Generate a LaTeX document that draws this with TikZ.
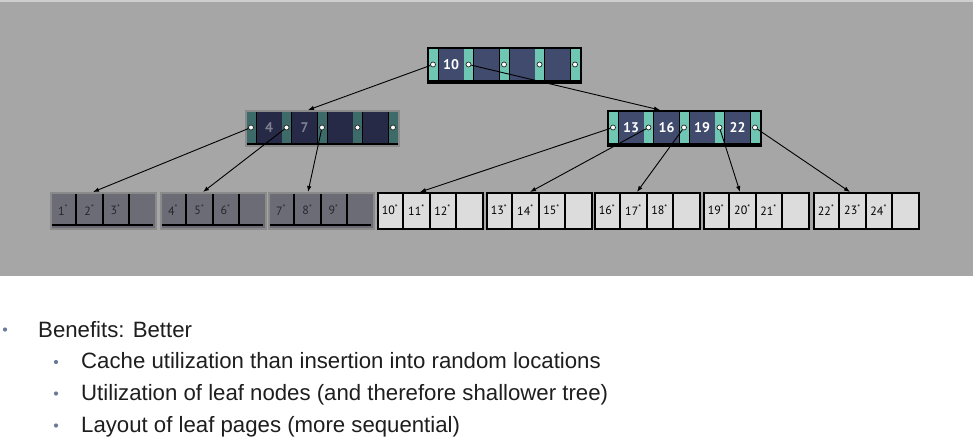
\documentclass[tikz,border=0pt]{standalone}
\usepackage{fontspec}
\setmainfont{Liberation Sans}
\newfontfamily\leaffont{PT Sans}
\newfontfamily\keyfont{PT Sans}
\usetikzlibrary{calc,arrows.meta}
\definecolor{bgA}{HTML}{A6A6A6}
\definecolor{bgTop}{HTML}{CFCFCF}
\definecolor{tealA}{HTML}{6FC7B3}
\definecolor{keyA}{HTML}{404B6D}
\definecolor{tealD}{HTML}{3D6B69}
\definecolor{keyD}{HTML}{272A46}
\definecolor{keytD}{HTML}{7E8092}
\definecolor{rimD}{HTML}{8A8A8A}
\definecolor{leafL}{HTML}{DCDCDC}
\definecolor{leafDfill}{HTML}{6C6C76}
\definecolor{leafDtext}{HTML}{26262C}
\definecolor{txtcol}{HTML}{1E1E1E}
\definecolor{bulcol}{HTML}{6B7A99}
\tikzset{
  ibox/.style={rectangle, anchor=north west, minimum width=153pt, minimum height=35pt, inner sep=0pt, fill=black, line width=1.5pt},
  ptr/.style={circle, fill=white, draw=black!85, line width=0.7pt, minimum size=5pt, inner sep=0pt},
  keyt/.style={font=\keyfont\bfseries\fontsize{14}{14}\selectfont, text=white, inner sep=0pt},
  keytdim/.style={keyt, text=keytD},
  lbox/.style={rectangle, anchor=north west, minimum width=105pt, minimum height=36pt, inner sep=0pt, fill=leafL, draw=black, line width=2pt},
  dbox/.style={rectangle, anchor=north west, minimum width=105pt, minimum height=36pt, inner sep=0pt, fill=leafDfill, draw=rimD, line width=1.5pt},
  leaft/.style={font=\leaffont\fontsize{12}{12}\selectfont, text=black, inner sep=0pt},
  leaftdim/.style={leaft, text=leafDtext},
  arr/.style={draw=black, line width=0.9pt, -{Latex[length=6pt,width=4.5pt]}},
  txt/.style={font=\fontsize{22.2}{26}\selectfont, text=txtcol, inner sep=0pt, anchor=base west},
  bul/.style={circle, fill=bulcol, minimum size=4.2pt, inner sep=0pt}
}
\newcommand\drawinode[6]{%
  \node[ibox, draw=#6] (#1) at (#2,#3) {};
  \foreach \i in {0,...,4} \fill[#4] ($(#1.north west)+(1.5+35.5*\i,2)$) rectangle ++(9,31);
  \foreach \i in {0,...,3} \fill[#5] ($(#1.north west)+(11.5+35.5*\i,2)$) rectangle ++(25,31);
  \foreach \i in {0,...,4} \node[ptr] (#1-p\i) at ($(#1.north west)+(6+35.5*\i,17.5)$) {};
}
\newcommand\drawleaf[5]{%
  \node[lbox] (#1) at (#2,192) {};
  \foreach \i in {1,2,3} \draw[black, line width=2pt] ($(#1.north west)+(26.25*\i,0)$) -- ++(0,36);
  \node[leaft] (#1-a) at ($(#1.north west)+(13.1,18)$) {#3\textsuperscript{*}};
  \node[leaft] (#1-b) at ($(#1.north west)+(39.4,18)$) {#4\textsuperscript{*}};
  \node[leaft] (#1-c) at ($(#1.north west)+(65.6,18)$) {#5\textsuperscript{*}};
}
\newcommand\drawdleaf[5]{%
  \node[dbox] (#1) at (#2,192) {};
  \foreach \i in {1,2,3} \draw[black, line width=2pt] ($(#1.north west)+(26.25*\i,2)$) -- ++(0,31.5);
  \draw[black, line width=1.6pt] ($(#1.north west)+(2,33)$) -- ++(101,0);
  \node[leaftdim] (#1-a) at ($(#1.north west)+(13.1,18)$) {#3\textsuperscript{*}};
  \node[leaftdim] (#1-b) at ($(#1.north west)+(39.4,18)$) {#4\textsuperscript{*}};
  \node[leaftdim] (#1-c) at ($(#1.north west)+(65.6,18)$) {#5\textsuperscript{*}};
}
\begin{document}
\begin{tikzpicture}[x=1pt,y=-1pt]
\useasboundingbox (0,0) rectangle (973,447);
\fill[white] (0,0) rectangle (973,447);
\fill[bgTop] (0,0) rectangle (973,2);
\fill[bgA] (0,2) rectangle (973,276);

% internal nodes
\drawinode{root}{427}{47}{tealA}{keyA}{black}
\node[keyt] (k10) at ($(root.north west)+(24,17.5)$) {10};

\drawinode{La}{245}{110}{tealD}{keyD}{rimD}
\node[keytdim] (k4) at ($(La.north west)+(24,17.5)$) {4};
\node[keytdim] (k7) at ($(La.north west)+(59.5,17.5)$) {7};

\drawinode{Lb}{607}{110}{tealA}{keyA}{black}
\node[keyt] (k13) at ($(Lb.north west)+(24,17.5)$) {13};
\node[keyt] (k16) at ($(Lb.north west)+(59.5,17.5)$) {16};
\node[keyt] (k19) at ($(Lb.north west)+(95,17.5)$) {19};
\node[keyt] (k22) at ($(Lb.north west)+(130.5,17.5)$) {22};

% leaves
\drawdleaf{lf1}{50}{1}{2}{3}
\drawdleaf{lf2}{160}{4}{5}{6}
\drawdleaf{lf3}{268}{7}{8}{9}
\drawleaf{lf4}{377}{10}{11}{12}
\drawleaf{lf5}{486}{13}{14}{15}
\drawleaf{lf6}{594}{16}{17}{18}
\drawleaf{lf7}{703}{19}{20}{21}
\drawleaf{lf8}{813}{22}{23}{24}

% arrow targets
\coordinate (tA) at (308,110);
\coordinate (tB) at (660,110);
\coordinate (t1) at (93,192);
\coordinate (t2) at (203,192);
\coordinate (t3) at (308,192);
\coordinate (t4) at (420,192);
\coordinate (t5) at (530,192);
\coordinate (t6) at (637,192);
\coordinate (t7) at (740,192);
\coordinate (t8) at (850,192);

\draw[arr] (root-p0) -- (tA);
\draw[arr] (root-p1) -- (tB);
\draw[arr] (La-p0) -- (t1);
\draw[arr] (La-p1) -- (t2);
\draw[arr] (La-p2) -- (t3);
\draw[arr] (Lb-p0) -- (t4);
\draw[arr] (Lb-p1) -- (t5);
\draw[arr] (Lb-p2) -- (t6);
\draw[arr] (Lb-p3) -- (t7);
\draw[arr] (Lb-p4) -- (t8);

% text
\node[bul] (b0) at (5,329.5) {};
\node[txt] (l0) at (38,337) {Benefits: Better};
\node[bul] (b1) at (56,362) {};
\node[txt] (l1) at (81,368) {Cache utilization than insertion into random locations};
\node[bul] (b2) at (56,393.5) {};
\node[txt] (l2) at (81,400) {Utilization of leaf nodes (and therefore shallower tree)};
\node[bul] (b3) at (56,425.5) {};
\node[txt] (l3) at (81,432) {Layout of leaf pages (more sequential)};
\end{tikzpicture}
\end{document}
